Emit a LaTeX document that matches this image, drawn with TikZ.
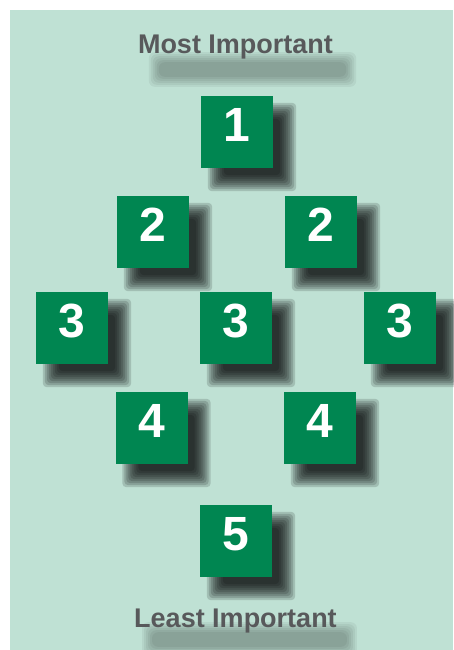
\documentclass[tikz,border=0pt]{standalone}
\usepackage{fontspec}
\setmainfont{Liberation Sans}
\definecolor{mintbg}{RGB}{191,225,212}
\definecolor{rankgreen}{RGB}{0,134,81}
\definecolor{labelgray}{RGB}{88,89,91}
\usetikzlibrary{backgrounds}

\begin{document}
\begin{tikzpicture}[x=1pt, y=-1pt,
  rank/.style={fill=rankgreen, text=white, minimum size=72pt, inner sep=0pt,
    text depth=14pt, font=\fontsize{48}{48}\selectfont\bfseries},
  title/.style={text=labelgray, inner sep=0pt, anchor=base,
    font=\fontsize{27}{27}\selectfont\bfseries},
  haze/.style={fill=black, opacity=0.15, rounded corners=4pt},
  smear/.style={fill=black, opacity=0.05, rounded corners=6pt},
]
\useasboundingbox (0,0) rectangle (453,650);

% Titles
\node[title] (top) at (235.5,54) {Most Important};
\node[title] (bottom) at (235.5,627) {Least Important};

% Ranks
\node[rank] (n1) at (237,132) {1};
\node[rank] (n2l) at (153,232) {2};
\node[rank] (n2r) at (321,232) {2};
\node[rank] (n3l) at (72,328) {3};
\node[rank] (n3m) at (236,328) {3};
\node[rank] (n3r) at (400,328) {3};
\node[rank] (n4l) at (151.5,428) {4};
\node[rank] (n4r) at (320,428) {4};
\node[rank] (n5) at (236,541) {5};

\begin{scope}[on background layer]
  \fill[mintbg] (10,10) rectangle (453,650);
  % soft shadows under the titles
  \foreach \t/\dx/\dy in {top/17/21, bottom/14/18} {
    \foreach \r in {6,4,...,-4}
      \fill[smear] ([shift={(\dx-\r,\dy-\r+2)}]\t.north west)
        rectangle ([shift={(\dx+\r,\dy+\r)}]\t.south east);
  }
  % soft shadows under the ranks
  \foreach \n in {n1,n2l,n2r,n3l,n3m,n3r,n4l,n4r,n5} {
    \foreach \r in {8,6,...,-8}
      \fill[haze] ([shift={(15-\r,15-\r)}]\n.north west)
        rectangle ([shift={(15+\r,15+\r)}]\n.south east);
  }
\end{scope}
\end{tikzpicture}
\end{document}
